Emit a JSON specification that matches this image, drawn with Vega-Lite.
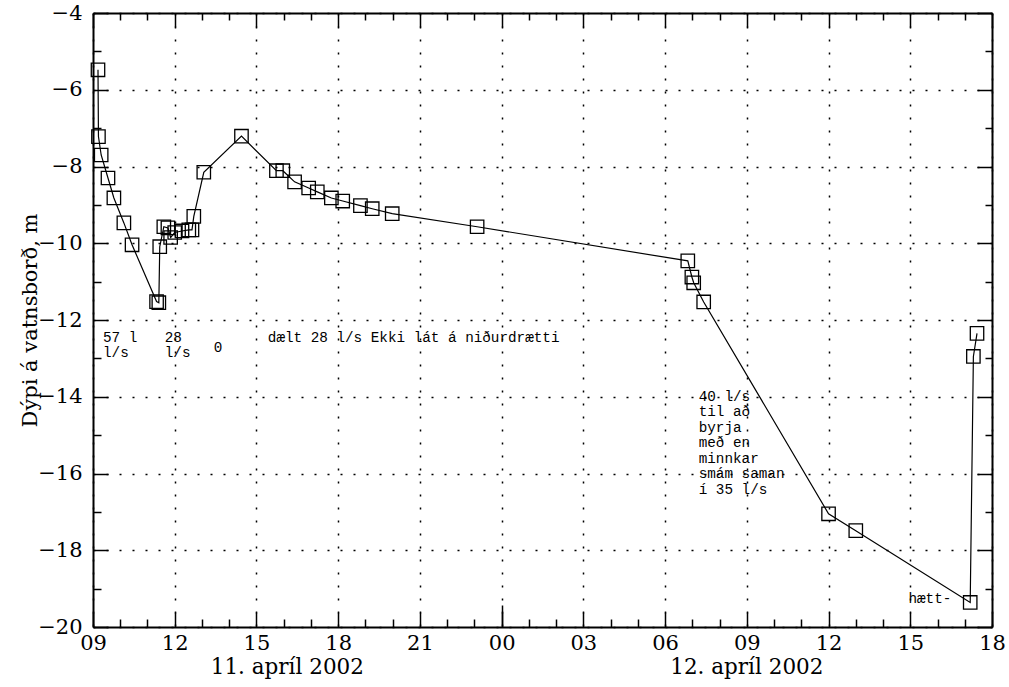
{
  "$schema": "https://vega.github.io/schema/vega-lite/v6.json",
  "width": 899,
  "height": 614,
  "autosize": {"type": "none"},
  "padding": {"left": 93, "top": 13, "right": 17, "bottom": 60},
  "background": "white",
  "config": {
    "view": {"stroke": null},
    "axis": {
      "domainColor": "black",
      "domainWidth": 2,
      "tickColor": "black",
      "tickWidth": 1.5,
      "labelColor": "black",
      "labelFont": "DejaVu Serif",
      "labelFontSize": 21,
      "gridColor": "black",
      "gridDash": [2, 11],
      "gridWidth": 1.5,
      "gridOpacity": 1
    }
  },
  "datasets": {
    "obs": [
      {"t": "2002-04-11T09:11", "v": -5.48},
      {"t": "2002-04-11T09:12", "v": -7.22},
      {"t": "2002-04-11T09:18", "v": -7.70},
      {"t": "2002-04-11T09:33", "v": -8.30},
      {"t": "2002-04-11T09:46", "v": -8.82},
      {"t": "2002-04-11T10:08", "v": -9.47},
      {"t": "2002-04-11T10:26", "v": -10.04},
      {"t": "2002-04-11T11:20", "v": -11.52},
      {"t": "2002-04-11T11:25", "v": -11.55},
      {"t": "2002-04-11T11:27", "v": -10.09},
      {"t": "2002-04-11T11:36", "v": -9.57},
      {"t": "2002-04-11T11:45", "v": -9.60},
      {"t": "2002-04-11T11:51", "v": -9.85},
      {"t": "2002-04-11T12:00", "v": -9.72},
      {"t": "2002-04-11T12:16", "v": -9.68},
      {"t": "2002-04-11T12:31", "v": -9.65},
      {"t": "2002-04-11T12:38", "v": -9.65},
      {"t": "2002-04-11T12:42", "v": -9.30},
      {"t": "2002-04-11T13:04", "v": -8.15},
      {"t": "2002-04-11T14:27", "v": -7.21},
      {"t": "2002-04-11T15:44", "v": -8.11},
      {"t": "2002-04-11T15:58", "v": -8.11},
      {"t": "2002-04-11T16:24", "v": -8.40},
      {"t": "2002-04-11T16:55", "v": -8.56},
      {"t": "2002-04-11T17:14", "v": -8.66},
      {"t": "2002-04-11T17:45", "v": -8.82},
      {"t": "2002-04-11T18:10", "v": -8.90},
      {"t": "2002-04-11T18:49", "v": -9.02},
      {"t": "2002-04-11T19:15", "v": -9.10},
      {"t": "2002-04-11T19:59", "v": -9.23},
      {"t": "2002-04-11T23:06", "v": -9.57},
      {"t": "2002-04-12T06:50", "v": -10.46},
      {"t": "2002-04-12T06:59", "v": -10.88},
      {"t": "2002-04-12T07:03", "v": -11.03},
      {"t": "2002-04-12T07:25", "v": -11.53},
      {"t": "2002-04-12T12:00", "v": -17.05},
      {"t": "2002-04-12T13:00", "v": -17.49},
      {"t": "2002-04-12T17:12", "v": -19.36},
      {"t": "2002-04-12T17:19", "v": -12.95},
      {"t": "2002-04-12T17:27", "v": -12.35}
    ],
    "notes": [
      {"t": "2002-04-11T09:22", "v": -12.28, "label": "57 l\nl/s"},
      {"t": "2002-04-11T11:38", "v": -12.28, "label": "28\nl/s"},
      {"t": "2002-04-11T13:26", "v": -12.55, "label": "0"},
      {"t": "2002-04-11T15:25", "v": -12.28, "label": "dælt 28 l/s Ekki lát á niðurdrætti"},
      {"t": "2002-04-12T07:14", "v": -13.82, "label": "40 l/s\ntil að\nbyrja\nmeð en\nminnkar\nsmám saman\ní 35 l/s"},
      {"t": "2002-04-12T14:56", "v": -19.1, "label": "hætt-"}
    ],
    "dates": [
      {"t": "2002-04-11T16:08", "label": "11. apríl 2002"},
      {"t": "2002-04-12T09:00", "label": "12. apríl 2002"}
    ]
  },
  "layer": [
    {
      "data": {"name": "obs"},
      "mark": {"type": "line", "color": "black", "strokeWidth": 1.2},
      "encoding": {
        "x": {
          "field": "t", "type": "temporal",
          "scale": {"domain": [{"year": 2002, "month": 4, "date": 11, "hours": 9}, {"year": 2002, "month": 4, "date": 12, "hours": 18}], "nice": false},
          "axis": {"orient": "bottom", "format": "%H", "tickSize": -15, "grid": true, "title": null, "labelPadding": 20, "labelFlush": false, "labelOverlap": false,
            "values": [
              {"year": 2002, "month": 4, "date": 11, "hours": 9},
              {"year": 2002, "month": 4, "date": 11, "hours": 12},
              {"year": 2002, "month": 4, "date": 11, "hours": 15},
              {"year": 2002, "month": 4, "date": 11, "hours": 18},
              {"year": 2002, "month": 4, "date": 11, "hours": 21},
              {"year": 2002, "month": 4, "date": 12, "hours": 0},
              {"year": 2002, "month": 4, "date": 12, "hours": 3},
              {"year": 2002, "month": 4, "date": 12, "hours": 6},
              {"year": 2002, "month": 4, "date": 12, "hours": 9},
              {"year": 2002, "month": 4, "date": 12, "hours": 12},
              {"year": 2002, "month": 4, "date": 12, "hours": 15},
              {"year": 2002, "month": 4, "date": 12, "hours": 18}
            ]}
        },
        "y": {
          "field": "v", "type": "quantitative",
          "scale": {"domain": [-20, -4], "nice": false, "zero": false},
          "axis": {"orient": "left", "values": [-20, -18, -16, -14, -12, -10, -8, -6, -4], "tickSize": -15, "grid": true, "labelPadding": 26, "labelFlush": false, "labelOverlap": false,
            "title": "Dýpi á vatnsborð, m", "titleFont": "DejaVu Serif", "titleFontSize": 21, "titleFontWeight": "normal", "titleColor": "black",
            "titleX": -63, "titleY": 307, "titleAngle": -90, "titleAlign": "center", "titleBaseline": "middle"}
        }
      }
    },
    {
      "data": {"name": "obs"},
      "mark": {"type": "point", "shape": "square", "filled": false, "size": 180, "stroke": "black", "strokeWidth": 1.3, "opacity": 1},
      "encoding": {
        "x": {"field": "t", "type": "temporal",
          "axis": {"orient": "bottom", "labels": false, "tickSize": -8, "grid": false, "domain": false, "title": null,
            "values": [
              {"year": 2002, "month": 4, "date": 11, "hours": 10},
              {"year": 2002, "month": 4, "date": 11, "hours": 11},
              {"year": 2002, "month": 4, "date": 11, "hours": 13},
              {"year": 2002, "month": 4, "date": 11, "hours": 14},
              {"year": 2002, "month": 4, "date": 11, "hours": 16},
              {"year": 2002, "month": 4, "date": 11, "hours": 17},
              {"year": 2002, "month": 4, "date": 11, "hours": 19},
              {"year": 2002, "month": 4, "date": 11, "hours": 20},
              {"year": 2002, "month": 4, "date": 11, "hours": 22},
              {"year": 2002, "month": 4, "date": 11, "hours": 23},
              {"year": 2002, "month": 4, "date": 12, "hours": 1},
              {"year": 2002, "month": 4, "date": 12, "hours": 2},
              {"year": 2002, "month": 4, "date": 12, "hours": 4},
              {"year": 2002, "month": 4, "date": 12, "hours": 5},
              {"year": 2002, "month": 4, "date": 12, "hours": 7},
              {"year": 2002, "month": 4, "date": 12, "hours": 8},
              {"year": 2002, "month": 4, "date": 12, "hours": 10},
              {"year": 2002, "month": 4, "date": 12, "hours": 11},
              {"year": 2002, "month": 4, "date": 12, "hours": 13},
              {"year": 2002, "month": 4, "date": 12, "hours": 14},
              {"year": 2002, "month": 4, "date": 12, "hours": 16},
              {"year": 2002, "month": 4, "date": 12, "hours": 17}
            ]}},
        "y": {"field": "v", "type": "quantitative",
          "axis": {"orient": "left", "values": [-19, -17, -15, -13, -11, -9, -7, -5], "labels": false, "tickSize": -8, "grid": false, "domain": false, "title": null}}
      }
    },
    {
      "data": {"name": "obs"},
      "mark": {"type": "point", "opacity": 0},
      "encoding": {
        "x": {"field": "t", "type": "temporal",
          "axis": {"orient": "top", "labels": false, "tickSize": -14, "grid": false, "domain": true, "title": null,
            "values": [
              {"year": 2002, "month": 4, "date": 11, "hours": 9},
              {"year": 2002, "month": 4, "date": 11, "hours": 12},
              {"year": 2002, "month": 4, "date": 11, "hours": 15},
              {"year": 2002, "month": 4, "date": 11, "hours": 18},
              {"year": 2002, "month": 4, "date": 11, "hours": 21},
              {"year": 2002, "month": 4, "date": 12, "hours": 0},
              {"year": 2002, "month": 4, "date": 12, "hours": 3},
              {"year": 2002, "month": 4, "date": 12, "hours": 6},
              {"year": 2002, "month": 4, "date": 12, "hours": 9},
              {"year": 2002, "month": 4, "date": 12, "hours": 12},
              {"year": 2002, "month": 4, "date": 12, "hours": 15},
              {"year": 2002, "month": 4, "date": 12, "hours": 18}
            ]}},
        "y": {"field": "v", "type": "quantitative",
          "axis": {"orient": "right", "values": [-20, -18, -16, -14, -12, -10, -8, -6, -4], "labels": false, "tickSize": -15, "grid": false, "domain": true, "title": null}}
      }
    },
    {
      "data": {"name": "obs"},
      "mark": {"type": "point", "opacity": 0},
      "encoding": {
        "x": {"field": "t", "type": "temporal",
          "axis": {"orient": "top", "labels": false, "tickSize": -7, "grid": false, "domain": false, "title": null,
            "values": [
              {"year": 2002, "month": 4, "date": 11, "hours": 10},
              {"year": 2002, "month": 4, "date": 11, "hours": 11},
              {"year": 2002, "month": 4, "date": 11, "hours": 13},
              {"year": 2002, "month": 4, "date": 11, "hours": 14},
              {"year": 2002, "month": 4, "date": 11, "hours": 16},
              {"year": 2002, "month": 4, "date": 11, "hours": 17},
              {"year": 2002, "month": 4, "date": 11, "hours": 19},
              {"year": 2002, "month": 4, "date": 11, "hours": 20},
              {"year": 2002, "month": 4, "date": 11, "hours": 22},
              {"year": 2002, "month": 4, "date": 11, "hours": 23},
              {"year": 2002, "month": 4, "date": 12, "hours": 1},
              {"year": 2002, "month": 4, "date": 12, "hours": 2},
              {"year": 2002, "month": 4, "date": 12, "hours": 4},
              {"year": 2002, "month": 4, "date": 12, "hours": 5},
              {"year": 2002, "month": 4, "date": 12, "hours": 7},
              {"year": 2002, "month": 4, "date": 12, "hours": 8},
              {"year": 2002, "month": 4, "date": 12, "hours": 10},
              {"year": 2002, "month": 4, "date": 12, "hours": 11},
              {"year": 2002, "month": 4, "date": 12, "hours": 13},
              {"year": 2002, "month": 4, "date": 12, "hours": 14},
              {"year": 2002, "month": 4, "date": 12, "hours": 16},
              {"year": 2002, "month": 4, "date": 12, "hours": 17}
            ]}},
        "y": {"field": "v", "type": "quantitative",
          "axis": {"orient": "right", "values": [-19, -17, -15, -13, -11, -9, -7, -5], "labels": false, "tickSize": -7, "grid": false, "domain": false, "title": null}}
      }
    },
    {
      "data": {"name": "obs"},
      "mark": {"type": "point", "opacity": 0},
      "encoding": {
        "x": {"field": "t", "type": "temporal",
          "axis": {"orient": "bottom", "labels": false, "tickSize": -22, "grid": false, "domain": false, "title": null,
            "values": [{"year": 2002, "month": 4, "date": 12, "hours": 0}]}},
        "y": {"field": "v", "type": "quantitative", "axis": null}
      }
    },
    {
      "data": {"name": "notes"},
      "mark": {"type": "text", "font": "Liberation Mono", "fontSize": 14.3, "lineBreak": "\n", "lineHeight": 15.5, "align": "left", "baseline": "top", "color": "black"},
      "encoding": {
        "x": {"field": "t", "type": "temporal", "axis": null},
        "y": {"field": "v", "type": "quantitative", "axis": null},
        "text": {"field": "label"}
      }
    },
    {
      "data": {"name": "dates"},
      "mark": {"type": "text", "font": "DejaVu Serif", "fontSize": 21.5, "align": "center", "baseline": "alphabetic", "dy": 47, "color": "black"},
      "encoding": {
        "x": {"field": "t", "type": "temporal", "axis": null},
        "y": {"datum": -20, "type": "quantitative", "axis": null},
        "text": {"field": "label"}
      }
    }
  ],
  "resolve": {"axis": {"x": "independent", "y": "independent"}}
}
